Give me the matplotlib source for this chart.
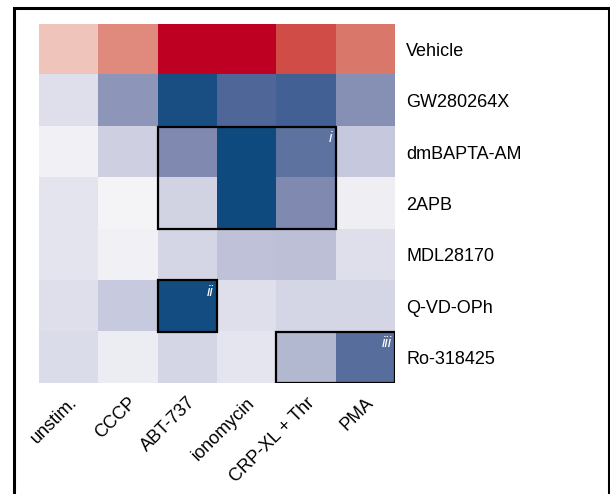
import numpy as np
import matplotlib
matplotlib.use('Agg')
import matplotlib.pyplot as plt
from matplotlib.colors import LinearSegmentedColormap
from matplotlib.patches import Rectangle

plt.rcParams['font.family'] = ['Liberation Sans', 'DejaVu Sans']

# -------------------------------
# Data
# -------------------------------
treatments = ['unstim.', 'CCCP', 'ABT-737', 'ionomycin', 'CRP-XL + Thr', 'PMA']
inhibitors = ['Vehicle', 'GW280264X', 'dmBAPTA-AM', '2APB', 'MDL28170',
              'Q-VD-OPh', 'Ro-318425']

vehicle = [0.25, 0.50, 1.00, 1.00, 0.75, 0.58]
gw280264x = [-0.12, -0.45, -0.95, -0.72, -0.78, -0.47]
dmbapta = [-0.03, -0.20, -0.50, -1.00, -0.65, -0.24]
apb2 = [-0.10, -0.01, -0.18, -1.00, -0.50, -0.04]
mdl28170 = [-0.10, -0.03, -0.17, -0.27, -0.28, -0.12]
qvdoph = [-0.12, -0.23, -0.97, -0.12, -0.17, -0.17]
ro318425 = [-0.14, -0.05, -0.17, -0.09, -0.31, -0.68]

values = np.array([vehicle, gw280264x, dmbapta, apb2, mdl28170, qvdoph, ro318425])

# highlighted blocks: (first row, first col, n rows, n cols, label)
boxes = [(2, 2, 2, 3, 'i'), (5, 2, 1, 1, 'ii'), (6, 4, 1, 2, 'iii')]

# -------------------------------
# Colour map
# -------------------------------
cmap = LinearSegmentedColormap.from_list('bluered', [
    (0.00, '#0e4a7e'),
    (0.125, '#4a6496'),
    (0.25, '#8089b0'),
    (0.375, '#c4c7dc'),
    (0.50, '#f7f7f9'),
    (0.625, '#f0c6bd'),
    (0.75, '#e08c7e'),
    (0.875, '#d05048'),
    (1.00, '#be0022'),
])

# -------------------------------
# Figure
# -------------------------------
fig = plt.figure(figsize=(6.1, 4.94), dpi=100)
ax = fig.add_axes([39 / 610, 1 - 383 / 494, 356 / 610, 359 / 494])

nrows, ncols = values.shape
ax.imshow(values, cmap=cmap, vmin=-1, vmax=1, aspect='auto',
          extent=(-0.5, ncols - 0.5, nrows - 0.5, -0.5), interpolation='nearest')

for r, c, h, w, lab in boxes:
    ax.add_patch(Rectangle((c - 0.5, r - 0.5), w, h, fill=False,
                           edgecolor='black', linewidth=1.6, zorder=3))
    ax.text(c + w - 0.56, r - 0.42, lab, color='white', style='italic',
            fontsize=11, ha='right', va='top', zorder=4)

ax.set_xticks(range(ncols))
ax.set_xticklabels(treatments, rotation=45, ha='right', rotation_mode='anchor',
                   fontsize=13)
ax.set_yticks(range(nrows))
ax.set_yticklabels(inhibitors, fontsize=13)
ax.yaxis.tick_right()
ax.tick_params(length=0, pad=8)
for s in ax.spines.values():
    s.set_visible(False)
ax.set_xlim(-0.5, ncols - 0.5)
ax.set_ylim(nrows - 0.5, -0.5)

# outer frame (open at the bottom, as in the panel crop)
fig.patches.append(Rectangle((14 / 610, -0.05), 595 / 610, 0.05 + 1 - 8 / 494,
                             transform=fig.transFigure, fill=False,
                             edgecolor='black', linewidth=2.2))

fig.savefig('out.png', dpi=100)
